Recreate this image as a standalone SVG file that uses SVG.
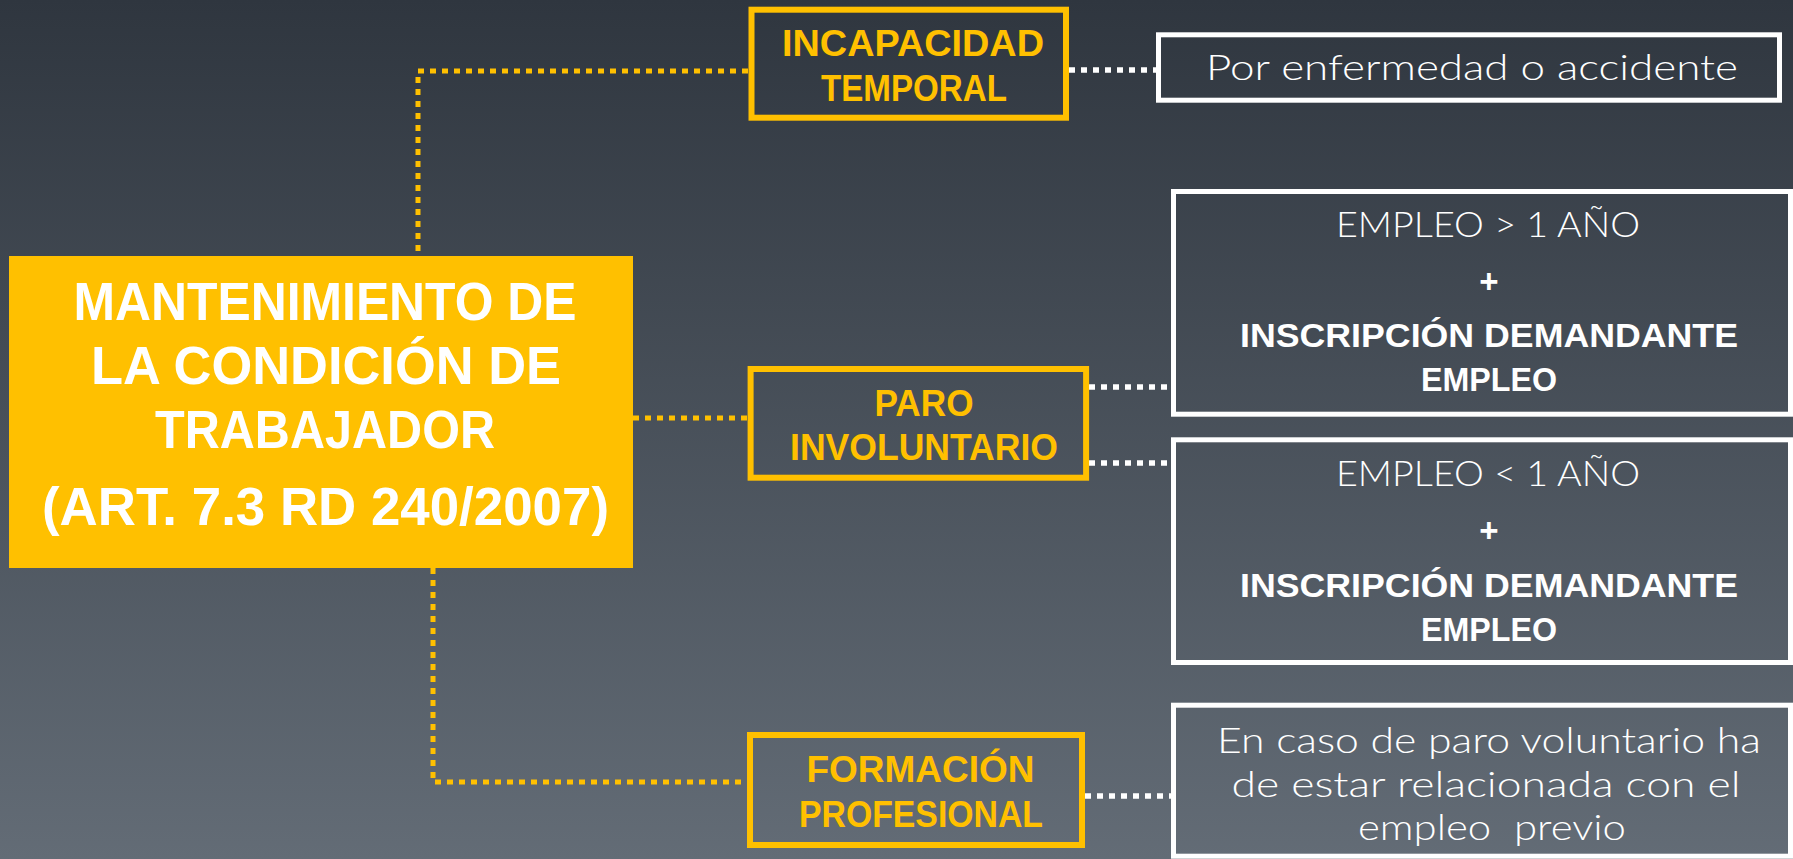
<svg xmlns="http://www.w3.org/2000/svg" width="1793" height="859" viewBox="0 0 1793 859">
<defs>
<linearGradient id="bg" x1="0" y1="0" x2="0" y2="1">
<stop offset="0" stop-color="#2f363f"/>
<stop offset="1" stop-color="#636c76"/>
</linearGradient>
</defs>
<style>
.ybox{fill:none;stroke:#FFC000;stroke-width:6}
.wbox{fill:none;stroke:#FFFFFF;stroke-width:5}
.ylink{fill:none;stroke:#FFC000;stroke-width:5;stroke-dasharray:6 6}
.wlink{fill:none;stroke:#FFFFFF;stroke-width:5.5;stroke-dasharray:6 6}
.yt{font-family:"Liberation Sans",Arial,sans-serif;font-weight:bold;font-size:37px;fill:#FFC000;text-anchor:middle}
.ct{font-family:"Liberation Sans",Arial,sans-serif;font-weight:bold;font-size:53px;fill:#FFFFFF;text-anchor:middle}
.wt{font-family:"Lato","Liberation Sans",sans-serif;font-weight:300;font-size:35px;fill:#FFFFFF;text-anchor:middle}
.wb{font-family:"Liberation Sans",Arial,sans-serif;font-weight:bold;font-size:33px;fill:#FFFFFF;text-anchor:middle}
</style>
<rect x="0" y="0" width="1793" height="859" fill="url(#bg)"/>

<g id="connectors">
<path class="ylink" d="M748 71 H418 V254"/>
<path class="ylink" d="M633 418 H748"/>
<path class="ylink" d="M433 568 V782 H748"/>
<path class="wlink" d="M1069 70 H1156"/>
<path class="wlink" d="M1089 387 H1171"/>
<path class="wlink" d="M1089 463 H1171"/>
<path class="wlink" d="M1085 796 H1171"/>
</g>

<g id="central">
<rect x="9" y="256" width="624" height="312" fill="#FFC000"/>
<text class="ct" x="325" y="320" textLength="503" lengthAdjust="spacingAndGlyphs">MANTENIMIENTO DE</text>
<text class="ct" x="326" y="384" textLength="470" lengthAdjust="spacingAndGlyphs">LA CONDICIÓN DE</text>
<text class="ct" x="325" y="448" textLength="340" lengthAdjust="spacingAndGlyphs">TRABAJADOR</text>
<text class="ct" x="325.5" y="525" textLength="567" lengthAdjust="spacingAndGlyphs">(ART. 7.3 RD 240/2007)</text>
</g>

<g id="incapacidad">
<rect class="ybox" x="751.5" y="9.7" width="314.5" height="108"/>
<text class="yt" x="913" y="56" textLength="262" lengthAdjust="spacingAndGlyphs">INCAPACIDAD</text>
<text class="yt" x="914" y="101" textLength="186" lengthAdjust="spacingAndGlyphs">TEMPORAL</text>
</g>

<g id="paro">
<rect class="ybox" x="750.6" y="369" width="335.5" height="108.7"/>
<text class="yt" x="924" y="416" textLength="99" lengthAdjust="spacingAndGlyphs">PARO</text>
<text class="yt" x="924" y="460" textLength="268" lengthAdjust="spacingAndGlyphs">INVOLUNTARIO</text>
</g>

<g id="formacion">
<rect class="ybox" x="750" y="735" width="332" height="110"/>
<text class="yt" x="920.5" y="782" textLength="228" lengthAdjust="spacingAndGlyphs">FORMACIÓN</text>
<text class="yt" x="921" y="827" textLength="244" lengthAdjust="spacingAndGlyphs">PROFESIONAL</text>
</g>

<g id="enfermedad">
<rect class="wbox" x="1158.5" y="34.8" width="621" height="65.4"/>
<text class="wt" x="1472" y="80" textLength="532" lengthAdjust="spacingAndGlyphs">Por enfermedad o accidente</text>
</g>

<g id="empleo-mayor">
<rect class="wbox" x="1173.5" y="191.5" width="617" height="222.7"/>
<text class="wt" x="1488" y="237" textLength="304" lengthAdjust="spacingAndGlyphs">EMPLEO &gt; 1 AÑO</text>
<text class="wb" x="1489" y="293">+</text>
<text class="wb" x="1489" y="347" textLength="498" lengthAdjust="spacingAndGlyphs">INSCRIPCIÓN DEMANDANTE</text>
<text class="wb" x="1489" y="391" textLength="136" lengthAdjust="spacingAndGlyphs">EMPLEO</text>
</g>

<g id="empleo-menor">
<rect class="wbox" x="1173.5" y="439.8" width="617" height="222.7"/>
<text class="wt" x="1488" y="486" textLength="304" lengthAdjust="spacingAndGlyphs">EMPLEO &lt; 1 AÑO</text>
<text class="wb" x="1489" y="542">+</text>
<text class="wb" x="1489" y="597" textLength="498" lengthAdjust="spacingAndGlyphs">INSCRIPCIÓN DEMANDANTE</text>
<text class="wb" x="1489" y="641" textLength="136" lengthAdjust="spacingAndGlyphs">EMPLEO</text>
</g>

<g id="formacion-detalle">
<rect class="wbox" x="1173.5" y="705.2" width="617" height="151"/>
<text class="wt" x="1489" y="753" textLength="544" lengthAdjust="spacingAndGlyphs">En caso de paro voluntario ha</text>
<text class="wt" x="1486" y="797" textLength="509" lengthAdjust="spacingAndGlyphs">de estar relacionada con el</text>
<text class="wt" x="1492" y="840" textLength="268" lengthAdjust="spacingAndGlyphs" style="white-space:pre">empleo  previo</text>
</g>
</svg>
